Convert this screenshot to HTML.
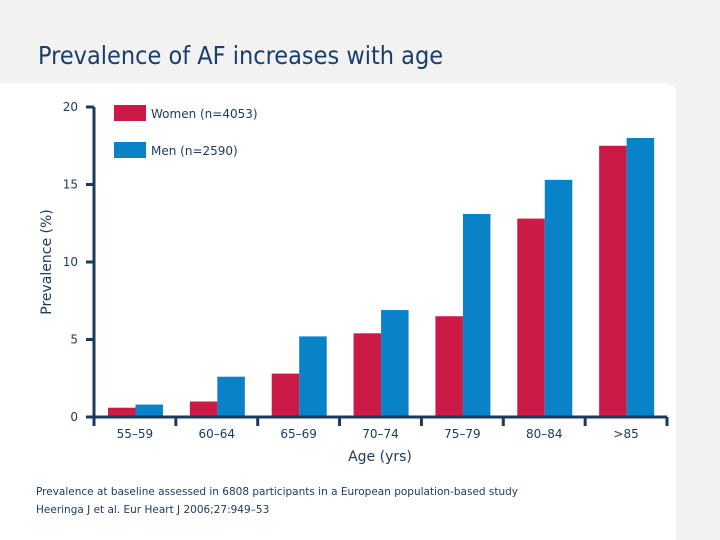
<!DOCTYPE html>
<html><head><meta charset="utf-8"><style>
body{margin:0;width:720px;height:540px;overflow:hidden;background:#f2f2f2;font-family:"DejaVu Sans","Liberation Sans",sans-serif}
svg{display:block}
</style></head><body>
<svg width="720" height="540" xmlns="http://www.w3.org/2000/svg">
<path d="M0 83 H664 Q676 83 676 95 V540 H0 Z" fill="#fff"/>
<text x="38" y="64" font-size="25" fill="#1b3f6b" font-family="DejaVu Sans Condensed, DejaVu Sans, sans-serif">Prevalence of AF increases with age</text>
<g id="axes" fill="#1b3a5c" font-size="12"></g>
<g id="bars"></g>
<rect x="114" y="105" width="32" height="16" fill="#cc1a46"/>
<text x="151" y="118" font-size="12" fill="#1b3a5c">Women (n=4053)</text>
<rect x="114" y="142" width="32" height="16" fill="#0a82c8"/>
<text x="151" y="155" font-size="12" fill="#1b3a5c">Men (n=2590)</text>
<text x="380" y="461" font-size="14" fill="#1b3a5c" text-anchor="middle">Age (yrs)</text>
<text transform="translate(51,262) rotate(-90)" font-size="14" fill="#1b3a5c" text-anchor="middle">Prevalence (%)</text>
<text x="36" y="495" font-size="10.5" fill="#1b3a5c">Prevalence at baseline assessed in 6808 participants in a European population-based study</text>
<text x="36" y="513" font-size="10.5" fill="#1b3a5c">Heeringa J et al. Eur Heart J 2006;27:949–53</text>
</svg>
<script>
const categories=["55–59","60–64","65–69","70–74","75–79","80–84",">85"];
const women=[0.6,1.0,2.8,5.4,6.5,12.8,17.5];
const men=[0.8,2.6,5.2,6.9,13.1,15.3,18.0];
const yTicks=[0,5,10,15,20];
const NS="http://www.w3.org/2000/svg";
const x0=94,x1=667,yBase=417,yTop=107,yMax=20;
const cw=(x1-x0)/categories.length;
const y=v=>yBase-(yBase-yTop)*v/yMax;
const xc=i=>x0+i*cw;
function mk(t,a,p){const e=document.createElementNS(NS,t);for(const k in a)e.setAttribute(k,a[k]);p.appendChild(e);return e;}
const ax=document.getElementById('axes'),bg=document.getElementById('bars');
let l=mk('line',{x1:x0,y1:y(yMax),x2:x0,y2:yBase,stroke:'#1b3a5c','stroke-width':3},ax);


yTicks.forEach(v=>{
 const t=mk('line',{x1:x0-8,y1:y(v),x2:x0,y2:y(v),stroke:'#1b3a5c','stroke-width':3},ax);
 
 
 const tx=mk('text',{x:x0-16,y:y(v)+4,'text-anchor':'end'},ax);tx.textContent=v;
 
 
});
categories.forEach((c,i)=>{
 const bw=27.5,s=xc(i)+14;
 const r1=mk('rect',{x:s,y:y(women[i]),width:bw,height:yBase-y(women[i]),fill:'#cc1a46'},bg);
 
 
 const r2=mk('rect',{x:s+bw,y:y(men[i]),width:bw,height:yBase-y(men[i]),fill:'#0a82c8'},bg);
 
 
 const tx=mk('text',{x:xc(i)+cw/2,y:yBase+21,'text-anchor':'middle','font-size':12,fill:'#1b3a5c'},bg);tx.textContent=c;
 
 
});
for(let i=0;i<=categories.length;i++){
 const t=mk('line',{x1:xc(i),y1:yBase,x2:xc(i),y2:yBase+9,stroke:'#1b3a5c','stroke-width':3},ax);
 
 
}
l=mk('line',{x1:x0-8,y1:yBase,x2:x1,y2:yBase,stroke:'#1b3a5c','stroke-width':3},bg);


</script>
</body></html>
